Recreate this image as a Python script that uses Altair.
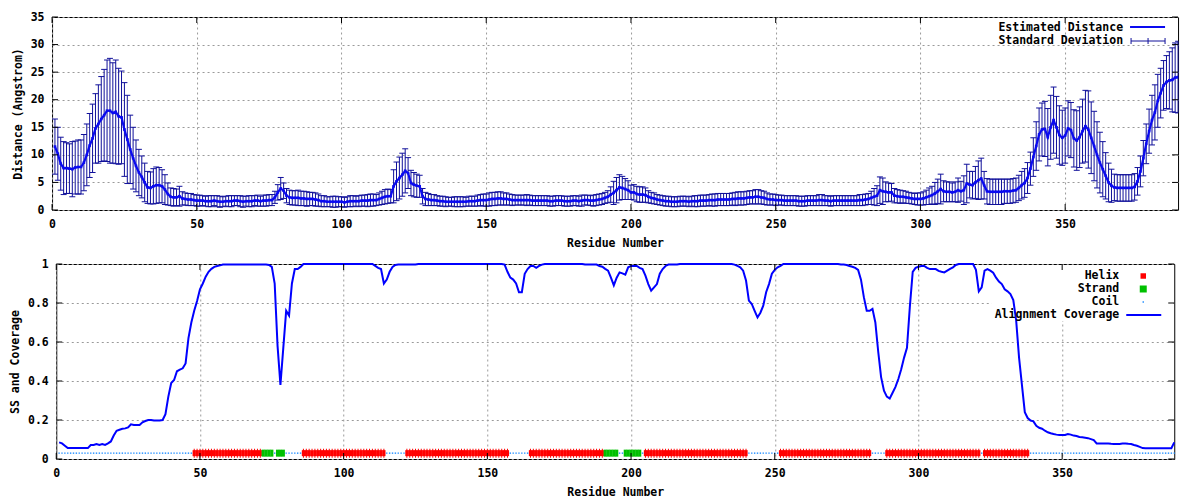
import altair as alt
import pandas as pd

# ---------------- data ----------------
residues = list(range(1, 390))

distance = [
    11.5, 10.2, 8.4, 7.6, 7.6, 7.5, 7.4, 7.7, 7.8, 7.8,
    8.6, 10.0, 11.7, 13.0, 14.8, 15.6, 16.5, 17.2, 18.0, 18.0,
    17.6, 17.8, 17.0, 16.8, 14.6, 12.8, 11.0, 9.4, 8.0, 6.8,
    6.0, 5.0, 4.1, 4.0, 4.3, 4.5, 4.5, 4.3, 3.7, 2.9,
    2.4, 2.3, 2.3, 2.5, 2.1, 2.0, 1.9, 1.9, 1.8, 1.7,
    1.7, 1.7, 1.6, 1.6, 1.6, 1.7, 1.6, 1.5, 1.5, 1.6,
    1.6, 1.6, 1.7, 1.7, 1.6, 1.5, 1.6, 1.6, 1.6, 1.7,
    1.7, 1.6, 1.7, 1.7, 1.8, 1.8, 2.3, 3.2, 3.9, 3.5,
    2.6, 2.3, 2.2, 2.2, 2.2, 2.1, 2.1, 2.0, 2.0, 2.0,
    1.9, 1.8, 1.6, 1.6, 1.5, 1.5, 1.5, 1.5, 1.5, 1.5,
    1.4, 1.5, 1.6, 1.6, 1.6, 1.6, 1.7, 1.7, 1.7, 1.8,
    1.8, 1.8, 2.0, 2.2, 2.4, 2.5, 2.5, 4.3, 5.2, 5.8,
    6.4, 7.1, 6.7, 4.9, 4.6, 4.4, 4.3, 2.5, 2.0, 1.9,
    1.8, 1.8, 1.7, 1.6, 1.6, 1.5, 1.5, 1.5, 1.5, 1.5,
    1.5, 1.5, 1.5, 1.6, 1.6, 1.6, 1.7, 1.8, 1.8, 1.8,
    1.9, 2.0, 2.0, 2.1, 2.1, 2.0, 2.0, 1.9, 1.8, 1.8,
    1.8, 1.8, 1.8, 1.8, 1.8, 1.7, 1.7, 1.7, 1.7, 1.7,
    1.7, 1.6, 1.6, 1.7, 1.7, 1.7, 1.6, 1.6, 1.6, 1.7,
    1.7, 1.6, 1.7, 1.8, 1.8, 1.7, 1.7, 1.8, 1.9, 2.0,
    2.2, 2.4, 2.8, 3.1, 3.6, 4.1, 4.0, 3.8, 3.6, 3.2,
    3.2, 2.9, 2.8, 2.8, 2.7, 2.4, 2.2, 2.1, 1.9, 1.8,
    1.7, 1.6, 1.6, 1.5, 1.5, 1.5, 1.6, 1.6, 1.6, 1.5,
    1.6, 1.6, 1.6, 1.7, 1.7, 1.7, 1.8, 1.8, 1.8, 1.9,
    1.9, 1.9, 1.9, 1.9, 2.0, 2.0, 2.1, 2.1, 2.1, 2.2,
    2.3, 2.3, 2.4, 2.4, 2.3, 2.2, 2.0, 1.9, 1.9, 1.8,
    1.8, 1.8, 1.7, 1.7, 1.7, 1.7, 1.7, 1.6, 1.6, 1.6,
    1.7, 1.7, 1.7, 1.7, 1.8, 1.8, 1.7, 1.7, 1.6, 1.7,
    1.7, 1.7, 1.7, 1.7, 1.7, 1.7, 1.7, 1.7, 1.8, 1.8,
    1.9, 2.0, 2.2, 2.4, 2.6, 3.6, 3.4, 3.3, 3.2, 3.2,
    2.6, 2.5, 2.4, 2.4, 2.3, 2.2, 2.1, 2.0, 2.0, 2.0,
    2.1, 2.3, 2.5, 2.7, 3.0, 3.4, 3.8, 3.4, 3.3, 3.3,
    3.2, 3.3, 3.6, 3.4, 3.6, 4.8, 4.6, 4.5, 5.0, 5.4,
    5.7, 4.5, 3.4, 3.3, 3.3, 3.3, 3.3, 3.3, 3.4, 3.4,
    3.4, 3.5, 3.6, 4.0, 4.5, 4.9, 5.8, 7.5, 9.6, 11.6,
    13.7, 14.6, 14.7, 13.2, 15.0, 16.3, 15.0, 13.6, 13.1, 13.5,
    14.8, 14.5, 13.0, 12.6, 13.2, 14.3, 15.2, 14.6, 13.1, 11.6,
    10.0, 8.6, 7.4, 6.2, 5.0, 4.4, 4.1, 4.0, 4.0, 4.0,
    4.0, 4.0, 4.0, 4.2, 5.2, 7.0, 9.4, 12.0, 14.3, 16.3,
    17.7, 19.8, 21.2, 22.6, 23.2, 23.5, 23.6, 24.0, 24.1,
]

std_dev = [
    5.0, 4.8, 4.8, 4.8, 4.6, 4.5, 5.0, 4.8, 4.9, 4.9,
    5.1, 5.6, 5.8, 6.2, 6.3, 7.1, 7.7, 8.3, 9.2, 9.5,
    9.1, 9.4, 8.7, 8.4, 8.5, 8.0, 6.2, 5.6, 4.7, 4.2,
    3.8, 3.5, 2.9, 2.9, 3.2, 3.3, 3.2, 3.0, 2.7, 2.0,
    1.6, 1.6, 1.5, 1.8, 1.2, 1.1, 1.1, 1.1, 1.0, 1.0,
    1.0, 0.9, 0.9, 1.0, 1.0, 0.9, 1.0, 1.0, 0.9, 0.9,
    1.0, 1.0, 0.9, 0.9, 1.0, 1.0, 0.9, 1.0, 1.0, 0.9,
    1.0, 0.9, 1.0, 1.0, 1.0, 1.0, 1.1, 1.4, 2.0, 1.4,
    1.3, 1.3, 1.3, 1.3, 1.4, 1.3, 1.3, 1.3, 1.2, 1.2,
    1.2, 1.1, 1.0, 1.0, 0.9, 0.9, 1.0, 1.0, 0.9, 0.9,
    0.9, 0.9, 1.0, 1.0, 0.9, 1.0, 1.0, 1.0, 1.1, 1.1,
    1.1, 1.0, 1.1, 1.2, 1.3, 1.3, 1.2, 3.0, 3.5, 3.8,
    3.9, 4.0, 2.8, 2.3, 2.2, 2.1, 2.0, 1.4, 1.2, 1.1,
    1.0, 1.0, 0.9, 0.9, 0.9, 0.9, 0.8, 0.8, 0.9, 0.9,
    0.9, 0.9, 0.8, 0.9, 0.9, 0.9, 1.0, 1.0, 1.1, 1.1,
    1.2, 1.2, 1.2, 1.2, 1.2, 1.1, 1.1, 1.0, 1.0, 0.9,
    0.9, 0.9, 0.9, 1.0, 0.9, 0.9, 0.9, 0.9, 0.9, 0.9,
    0.9, 0.9, 0.9, 0.9, 0.9, 0.9, 0.9, 0.9, 0.9, 0.9,
    0.9, 0.9, 1.0, 0.9, 0.9, 0.9, 1.0, 1.0, 1.0, 1.0,
    1.0, 1.1, 1.4, 2.1, 2.3, 2.3, 2.1, 1.9, 1.7, 1.3,
    1.4, 1.4, 1.4, 1.4, 1.3, 1.1, 1.0, 1.0, 0.9, 0.9,
    0.9, 0.9, 0.9, 0.9, 0.9, 0.9, 0.9, 0.9, 0.9, 0.9,
    0.9, 1.0, 1.0, 1.0, 1.0, 1.0, 1.0, 1.1, 1.1, 1.1,
    1.1, 1.1, 1.1, 1.1, 1.1, 1.2, 1.2, 1.2, 1.2, 1.2,
    1.2, 1.2, 1.3, 1.3, 1.2, 1.2, 1.1, 1.0, 1.0, 1.0,
    0.9, 0.9, 0.9, 0.9, 0.9, 0.9, 0.9, 0.9, 0.9, 0.9,
    0.9, 0.9, 0.9, 0.9, 1.0, 1.0, 0.9, 0.9, 0.9, 0.9,
    0.9, 0.9, 0.9, 0.9, 0.9, 0.9, 0.9, 0.9, 1.0, 1.0,
    1.0, 1.0, 1.2, 1.5, 1.8, 2.4, 2.4, 1.8, 1.7, 1.6,
    1.3, 1.2, 1.2, 1.1, 1.1, 1.0, 1.0, 1.0, 1.1, 1.1,
    1.2, 1.3, 1.5, 1.6, 2.0, 2.2, 2.7, 1.9, 1.8, 1.8,
    1.7, 1.8, 2.2, 1.8, 2.6, 3.5, 2.4, 2.5, 2.9, 3.5,
    3.7, 2.5, 2.3, 2.3, 2.3, 2.3, 2.3, 2.3, 2.2, 2.2,
    2.2, 2.2, 2.2, 2.3, 2.5, 2.6, 2.8, 3.0, 3.5, 4.4,
    4.8, 4.8, 5.0, 5.2, 5.8, 6.0, 5.6, 5.3, 5.0, 5.0,
    5.0, 5.0, 5.2, 5.4, 5.5, 5.8, 6.5, 7.0, 6.5, 6.3,
    6.0, 5.5, 5.0, 4.2, 3.5, 3.0, 2.4, 2.4, 2.4, 2.4,
    2.4, 2.4, 2.4, 2.4, 2.5, 2.8, 3.2, 3.6, 4.0, 4.5,
    5.0, 4.8, 4.5, 4.5, 4.8, 5.2, 5.8, 6.3, 6.5,
]

coverage = [
    0.085, 0.080, 0.068, 0.056, 0.056, 0.056, 0.056, 0.056, 0.056, 0.056,
    0.056, 0.072, 0.072, 0.077, 0.072, 0.077, 0.072, 0.080, 0.090, 0.120,
    0.145, 0.150, 0.155, 0.157, 0.162, 0.178, 0.175, 0.175, 0.175, 0.188,
    0.195, 0.200, 0.200, 0.197, 0.197, 0.197, 0.200, 0.230, 0.320, 0.390,
    0.405, 0.450, 0.458, 0.465, 0.490, 0.620, 0.700, 0.760, 0.810, 0.870,
    0.900, 0.935, 0.960, 0.975, 0.985, 0.990, 0.993, 0.997, 0.997, 0.997,
    0.997, 0.997, 0.997, 0.997, 0.997, 0.997, 0.997, 0.997, 0.997, 0.997,
    0.997, 0.997, 0.997, 0.995, 0.985, 0.900, 0.580, 0.380, 0.570, 0.760,
    0.735, 0.900, 0.974, 0.974, 0.985, 1.000, 1.000, 1.000, 1.000, 1.000,
    1.000, 1.000, 1.000, 1.000, 1.000, 1.000, 1.000, 1.000, 1.000, 1.000,
    1.000, 1.000, 1.000, 1.000, 1.000, 1.000, 1.000, 1.000, 1.000, 1.000,
    0.990, 0.980, 0.974, 0.900, 0.920, 0.960, 0.985, 0.995, 0.997, 0.997,
    0.997, 0.997, 0.997, 0.997, 0.997, 1.000, 1.000, 1.000, 1.000, 1.000,
    1.000, 1.000, 1.000, 1.000, 1.000, 1.000, 1.000, 1.000, 1.000, 1.000,
    1.000, 1.000, 1.000, 1.000, 1.000, 1.000, 1.000, 1.000, 1.000, 1.000,
    1.000, 1.000, 1.000, 1.000, 1.000, 0.997, 0.960, 0.930, 0.920, 0.900,
    0.855, 0.855, 0.950, 0.974, 0.990, 0.990, 0.980, 0.990, 0.997, 1.000,
    1.000, 1.000, 1.000, 1.000, 1.000, 1.000, 1.000, 1.000, 1.000, 1.000,
    1.000, 1.000, 1.000, 0.997, 0.997, 0.997, 0.997, 0.997, 0.990, 0.986,
    0.975, 0.966, 0.930, 0.890, 0.930, 0.957, 0.952, 0.945, 0.983, 0.990,
    0.990, 0.990, 0.980, 0.974, 0.940, 0.897, 0.863, 0.880, 0.897, 0.950,
    0.974, 0.990, 0.997, 0.997, 0.997, 0.997, 1.000, 1.000, 1.000, 1.000,
    1.000, 1.000, 1.000, 1.000, 1.000, 1.000, 1.000, 1.000, 1.000, 1.000,
    1.000, 1.000, 1.000, 1.000, 1.000, 0.997, 0.990, 0.983, 0.966, 0.915,
    0.812, 0.795, 0.760, 0.726, 0.750, 0.786, 0.855, 0.897, 0.950, 0.970,
    0.983, 0.990, 1.000, 1.000, 1.000, 1.000, 1.000, 1.000, 1.000, 1.000,
    1.000, 1.000, 1.000, 1.000, 1.000, 1.000, 1.000, 1.000, 1.000, 1.000,
    1.000, 1.000, 0.997, 0.997, 0.995, 0.990, 0.986, 0.980, 0.970, 0.920,
    0.830, 0.760, 0.760, 0.770, 0.700, 0.550, 0.420, 0.350, 0.320, 0.310,
    0.340, 0.370, 0.410, 0.460, 0.520, 0.570, 0.780, 0.960, 0.980, 0.986,
    0.990, 0.990, 0.980, 0.974, 0.974, 0.974, 0.965, 0.960, 0.957, 0.966,
    0.975, 0.983, 0.995, 1.000, 1.000, 1.000, 1.000, 1.000, 1.000, 0.970,
    0.860, 0.880, 0.966, 0.974, 0.966, 0.955, 0.930, 0.910, 0.897, 0.870,
    0.860, 0.846, 0.815, 0.710, 0.520, 0.380, 0.240, 0.210, 0.197, 0.193,
    0.170, 0.160, 0.155, 0.145, 0.137, 0.132, 0.128, 0.125, 0.123, 0.123,
    0.123, 0.128, 0.125, 0.120, 0.118, 0.113, 0.111, 0.109, 0.107, 0.102,
    0.097, 0.080, 0.080, 0.080, 0.080, 0.080, 0.078, 0.077, 0.077, 0.077,
    0.079, 0.080, 0.078, 0.077, 0.072, 0.068, 0.062, 0.056, 0.055, 0.055,
    0.055, 0.055, 0.055, 0.055, 0.055, 0.055, 0.055, 0.055, 0.085,
]

helix_segments = [(48, 71), (86, 114), (122, 157), (165, 190),
                  (205, 240), (252, 283), (289, 321), (323, 338)]
strand_segments = [(72, 75), (77, 79), (191, 195), (198, 203)]
ss_level = 0.03

x_ticks = [0, 50, 100, 150, 200, 250, 300, 350]
dist_ticks = [0, 5, 10, 15, 20, 25, 30, 35]
cov_ticks = [0, 0.2, 0.4, 0.6, 0.8, 1]
x_max = 389

assert len(distance) == len(residues) == len(std_dev) == len(coverage), (
    len(distance), len(std_dev), len(coverage))

# ---------------- styling ----------------
FONT = "DejaVu Sans Mono"
FS = 11.5
W1, H1 = 1126, 193
W2, H2 = 1118, 195
LINE_BLUE = "#0a0af0"
BAR_BLUE = "#10109a"
COV_BLUE = "#0000ff"
HELIX = "#ff0000"
STRAND = "#00c000"
COIL = "#1e8cff"
TICK_LEN = 6

xscale = alt.Scale(domain=[0, x_max], nice=False, zero=False)
xaxis = alt.Axis(values=x_ticks, title="Residue Number", format="d")


def X():
    return alt.X("r:Q", scale=xscale, axis=xaxis)


top_scale = alt.Scale(domain=[0, 35], nice=False, zero=False)
top_axis = alt.Axis(values=dist_ticks, title="Distance (Angstrom)", format="d")
bot_scale = alt.Scale(domain=[0, 1], nice=False, zero=False)
bot_axis = alt.Axis(values=cov_ticks, title="SS and Coverage", format="~g")


def Ytop(field):
    return alt.Y(f"{field}:Q", scale=top_scale, axis=top_axis)


def Ybot(field):
    return alt.Y(f"{field}:Q", scale=bot_scale, axis=bot_axis)


dummy = pd.DataFrame({"k": [0]})


def txt(label, x, y):
    return alt.Chart(pd.DataFrame({"t": [label]})).mark_text(
        font=FONT, fontSize=FS, fontWeight="bold", align="right",
        baseline="middle", color="black"
    ).encode(text="t:N", x=alt.value(x), y=alt.value(y))


def hrule(x1, x2, y, color, w=1):
    return alt.Chart(dummy).mark_rule(color=color, strokeWidth=w).encode(
        x=alt.value(x1), x2=alt.value(x2), y=alt.value(y))


def vrule(x, y1, y2, color, w=1):
    return alt.Chart(dummy).mark_rule(color=color, strokeWidth=w).encode(
        x=alt.value(x), y=alt.value(y1), y2=alt.value(y2))


def inward_ticks(W, H, yticks, Yfn):
    xt = pd.DataFrame({"r": x_ticks})
    yt = pd.DataFrame({"v": yticks})
    return [
        alt.Chart(xt).mark_rule(color="black").encode(
            x=X(), y=alt.value(H), y2=alt.value(H - TICK_LEN)),
        alt.Chart(xt).mark_rule(color="black").encode(
            x=X(), y=alt.value(0), y2=alt.value(TICK_LEN)),
        alt.Chart(yt).mark_rule(color="black").encode(
            y=Yfn("v"), x=alt.value(0), x2=alt.value(TICK_LEN)),
        alt.Chart(yt).mark_rule(color="black").encode(
            y=Yfn("v"), x=alt.value(W - TICK_LEN), x2=alt.value(W)),
    ]


# ---------------- top panel ----------------
top_df = pd.DataFrame({
    "r": residues,
    "v": distance,
    "lo": [d - s for d, s in zip(distance, std_dev)],
    "hi": [d + s for d, s in zip(distance, std_dev)],
})

bars = alt.Chart(top_df).mark_rule(color=BAR_BLUE, strokeWidth=1).encode(
    x=X(), y=Ytop("lo"), y2="hi:Q")
cap_lo = alt.Chart(top_df).mark_tick(
    orient="horizontal", size=6, thickness=1, color=BAR_BLUE, opacity=1, clip=True
).encode(x=X(), y=Ytop("lo"))
cap_hi = alt.Chart(top_df).mark_tick(
    orient="horizontal", size=6, thickness=1, color=BAR_BLUE, opacity=1, clip=True
).encode(x=X(), y=Ytop("hi"))
dist_line = alt.Chart(top_df).mark_line(color=LINE_BLUE, strokeWidth=2.2).encode(
    x=X(), y=Ytop("v"))
dist_pts = alt.Chart(top_df).mark_square(
    color=LINE_BLUE, size=7, opacity=1, clip=True
).encode(x=X(), y=Ytop("v"))

top_legend = [
    txt("Estimated Distance", W1 - 55, 11),
    hrule(W1 - 48, W1 - 13, 10, LINE_BLUE, 2.2),
    txt("Standard Deviation", W1 - 55, 24),
    hrule(W1 - 47, W1 - 13, 24, BAR_BLUE),
    vrule(W1 - 47, 21, 27, BAR_BLUE),
    vrule(W1 - 30, 21, 27, BAR_BLUE),
    vrule(W1 - 13, 21, 27, BAR_BLUE),
]

top = alt.layer(
    bars, cap_lo, cap_hi, dist_line, dist_pts,
    *inward_ticks(W1, H1, dist_ticks, Ytop),
    *top_legend,
).properties(width=W1, height=H1)

# ---------------- bottom panel ----------------
helix_res = [r for a, b in helix_segments for r in range(a, b + 1)]
strand_res = [r for a, b in strand_segments for r in range(a, b + 1)]
coil_res = [r for r in residues if r not in set(helix_res) | set(strand_res)]

helix_df = pd.DataFrame({"r": helix_res, "v": [ss_level] * len(helix_res)})
strand_df = pd.DataFrame({"r": strand_res, "v": [ss_level] * len(strand_res)})
coil_df = pd.DataFrame({"r": coil_res, "v": [ss_level] * len(coil_res)})
cov_df = pd.DataFrame({"r": residues, "v": coverage})

legend_box = alt.Chart(dummy).mark_rect(color="white").encode(
    x=alt.value(W2 - 183), x2=alt.value(W2 - 1), y=alt.value(1), y2=alt.value(57))

coil = alt.Chart(coil_df).mark_square(color=COIL, size=2, opacity=1).encode(
    x=X(), y=Ybot("v"))
helix_band = alt.Chart(helix_df).mark_tick(
    orient="vertical", size=6, thickness=3.2, color=HELIX, opacity=1
).encode(x=X(), y=Ybot("v"))
helix_serr = alt.Chart(helix_df).mark_tick(
    orient="vertical", size=9, thickness=1, color=HELIX, opacity=1
).encode(x=X(), y=Ybot("v"))
strand_band = alt.Chart(strand_df).mark_tick(
    orient="vertical", size=7, thickness=3.2, color=STRAND, opacity=1
).encode(x=X(), y=Ybot("v"))
cov_line = alt.Chart(cov_df).mark_line(color=COV_BLUE, strokeWidth=2).encode(
    x=X(), y=Ybot("v"))

LX = W2 - 31
bot_legend = [
    txt("Helix", W2 - 55, 12),
    alt.Chart(dummy).mark_square(color=HELIX, size=30, opacity=1).encode(
        x=alt.value(LX), y=alt.value(12)),
    txt("Strand", W2 - 55, 25),
    alt.Chart(dummy).mark_square(color=STRAND, size=49, opacity=1).encode(
        x=alt.value(LX), y=alt.value(25)),
    txt("Coil", W2 - 55, 38),
    alt.Chart(dummy).mark_square(color=COIL, size=2, opacity=1).encode(
        x=alt.value(LX), y=alt.value(38)),
    txt("Alignment Coverage", W2 - 55, 51),
    hrule(W2 - 48, W2 - 13, 51, COV_BLUE, 2),
]

bottom = alt.layer(
    legend_box, coil, helix_band, helix_serr, strand_band, cov_line,
    *inward_ticks(W2, H2, cov_ticks, Ybot),
    *bot_legend,
).properties(width=W2, height=H2)

chart = alt.vconcat(top, bottom, spacing=7, center=True).properties(
    padding={"left": 0, "top": 2, "right": 5, "bottom": 0}
).configure_view(
    stroke="black", strokeWidth=1
).configure_axis(
    domain=False, ticks=False, grid=True, gridColor="#9a9a9a",
    gridDash=[2, 3], gridWidth=1, labelFlush=False,
    labelFont=FONT, labelFontSize=FS, labelFontWeight="bold",
    labelColor="black", labelPadding=8,
    titleFont=FONT, titleFontSize=FS, titleFontWeight="bold",
    titleColor="black",
).configure_axisX(titlePadding=8).configure_axisY(titlePadding=7)

chart.save("out.html", embed_options={"renderer": "svg", "actions": False})
